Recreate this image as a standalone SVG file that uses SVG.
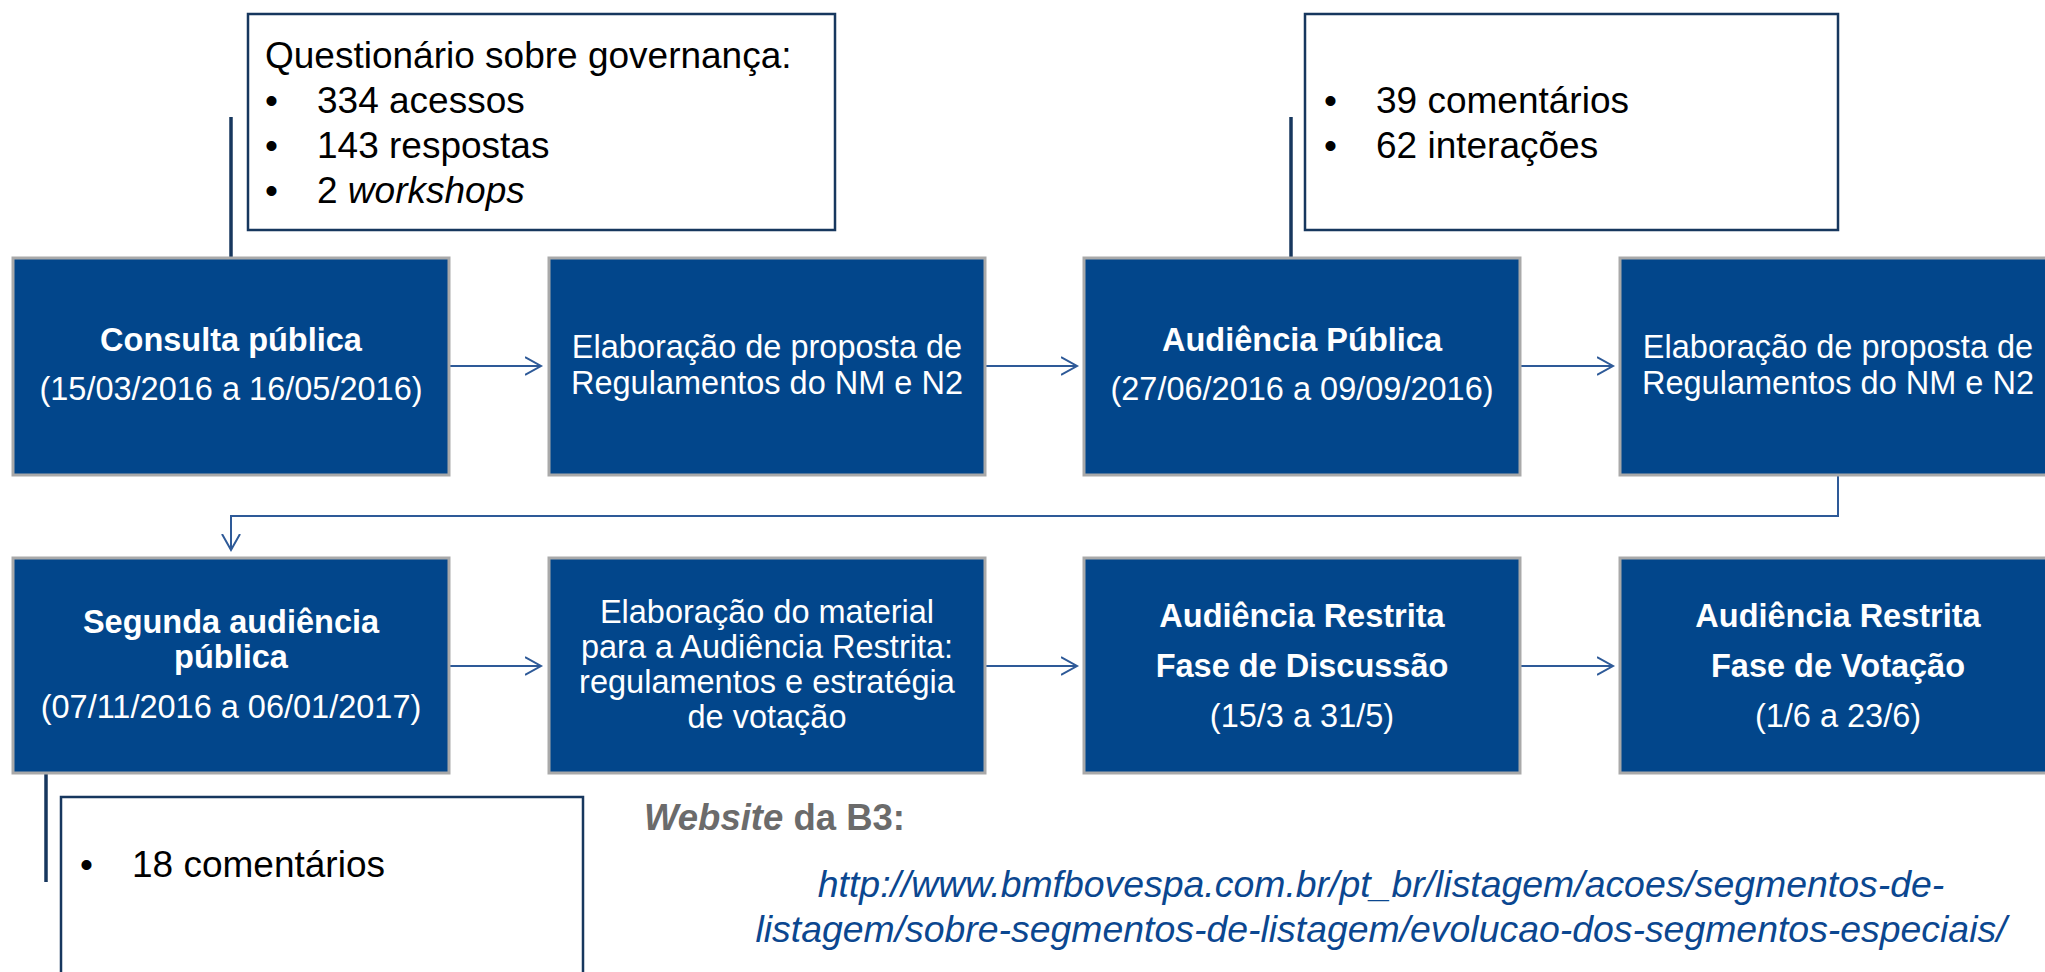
<svg xmlns="http://www.w3.org/2000/svg" width="2045" height="972" viewBox="0 0 2045 972">
<defs>
<style>
.box{fill:#02468b;stroke:#a9a9a9;stroke-width:3}
.bt{font-family:"Liberation Sans",Arial,sans-serif;font-size:32.5px;fill:#ffffff;text-anchor:middle}
.b{font-weight:bold}
.call{fill:#ffffff;stroke:#17375e;stroke-width:2.5}
.ct{font-family:"Liberation Sans",Arial,sans-serif;font-size:37px;fill:#000000}
.lead{stroke:#17375e;stroke-width:3.5;fill:none}
.conn{stroke:#2e5a98;stroke-width:2;fill:none}
.url{font-family:"Liberation Sans",Arial,sans-serif;font-size:37.4px;font-style:italic;fill:#0b4790;text-anchor:middle}
</style>
<marker id="arr" markerUnits="userSpaceOnUse" markerWidth="20" markerHeight="22" refX="16" refY="9" orient="auto" viewBox="0 0 20 18">
<path d="M0,0 L16,9 L0,18" fill="none" stroke="#2e5a98" stroke-width="2"/>
</marker>
</defs>
<rect width="2045" height="972" fill="#ffffff"/>

<g id="connectors">
<line class="conn" x1="449" y1="366" x2="541" y2="366" marker-end="url(#arr)"/>
<line class="conn" x1="985" y1="366" x2="1077" y2="366" marker-end="url(#arr)"/>
<line class="conn" x1="1521" y1="366" x2="1613" y2="366" marker-end="url(#arr)"/>
<polyline class="conn" points="1838,476 1838,516 231,516 231,550" marker-end="url(#arr)"/>
<line class="conn" x1="449" y1="666" x2="541" y2="666" marker-end="url(#arr)"/>
<line class="conn" x1="985" y1="666" x2="1077" y2="666" marker-end="url(#arr)"/>
<line class="conn" x1="1521" y1="666" x2="1613" y2="666" marker-end="url(#arr)"/>
<line class="lead" x1="231" y1="117" x2="231" y2="257"/>
<line class="lead" x1="1291" y1="117" x2="1291" y2="257"/>
<line class="lead" x1="46" y1="773" x2="46" y2="882"/>
</g>

<g id="callout1">
<rect class="call" x="248" y="14" width="587" height="216"/>
<text class="ct" x="265" y="68">Questionário sobre governança:</text>
<text class="ct" x="265" y="113">•</text><text class="ct" x="317" y="113">334 acessos</text>
<text class="ct" x="265" y="158">•</text><text class="ct" x="317" y="158">143 respostas</text>
<text class="ct" x="265" y="203">•</text><text class="ct" x="317" y="203">2 <tspan font-style="italic">workshops</tspan></text>
</g>

<g id="callout2">
<rect class="call" x="1305" y="14" width="533" height="216"/>
<text class="ct" x="1324" y="113">•</text><text class="ct" x="1376" y="113">39 comentários</text>
<text class="ct" x="1324" y="158">•</text><text class="ct" x="1376" y="158">62 interações</text>
</g>

<g id="callout3">
<rect class="call" x="61" y="797" width="522" height="200"/>
<text class="ct" x="80" y="877">•</text><text class="ct" x="132" y="877">18 comentários</text>
</g>

<g id="n1">
<rect class="box" x="13" y="258" width="436" height="217"/>
<text class="bt b" x="231" y="351">Consulta pública</text>
<text class="bt" x="231" y="400">(15/03/2016 a 16/05/2016)</text>
</g>
<g id="n2">
<rect class="box" x="549" y="258" width="436" height="217"/>
<text class="bt" x="767" y="358">Elaboração de proposta de</text>
<text class="bt" x="767" y="394">Regulamentos do NM e N2</text>
</g>
<g id="n3">
<rect class="box" x="1084" y="258" width="436" height="217"/>
<text class="bt b" x="1302" y="351">Audiência Pública</text>
<text class="bt" x="1302" y="400">(27/06/2016 a 09/09/2016)</text>
</g>
<g id="n4">
<rect class="box" x="1620" y="258" width="436" height="217"/>
<text class="bt" x="1838" y="358">Elaboração de proposta de</text>
<text class="bt" x="1838" y="394">Regulamentos do NM e N2</text>
</g>

<g id="n5">
<rect class="box" x="13" y="558" width="436" height="215"/>
<text class="bt b" x="231" y="633">Segunda audiência</text>
<text class="bt b" x="231" y="668">pública</text>
<text class="bt" x="231" y="718">(07/11/2016 a 06/01/2017)</text>
</g>
<g id="n6">
<rect class="box" x="549" y="558" width="436" height="215"/>
<text class="bt" x="767" y="623">Elaboração do material</text>
<text class="bt" x="767" y="658">para a Audiência Restrita:</text>
<text class="bt" x="767" y="693">regulamentos e estratégia</text>
<text class="bt" x="767" y="728">de votação</text>
</g>
<g id="n7">
<rect class="box" x="1084" y="558" width="436" height="215"/>
<text class="bt b" x="1302" y="627">Audiência Restrita</text>
<text class="bt b" x="1302" y="677">Fase de Discussão</text>
<text class="bt" x="1302" y="727">(15/3 a 31/5)</text>
</g>
<g id="n8">
<rect class="box" x="1620" y="558" width="436" height="215"/>
<text class="bt b" x="1838" y="627">Audiência Restrita</text>
<text class="bt b" x="1838" y="677">Fase de Votação</text>
<text class="bt" x="1838" y="727">(1/6 a 23/6)</text>
</g>

<g id="website">
<text x="644" y="830" font-family="'Liberation Sans',Arial,sans-serif" font-size="36.5" font-weight="bold" fill="#6b6b6b"><tspan font-style="italic">Website</tspan> da B3:</text>
<text class="url" x="1381" y="897">http://www.bmfbovespa.com.br/pt_br/listagem/acoes/segmentos-de-</text>
<text class="url" x="1381" y="942">listagem/sobre-segmentos-de-listagem/evolucao-dos-segmentos-especiais/</text>
</g>
</svg>
